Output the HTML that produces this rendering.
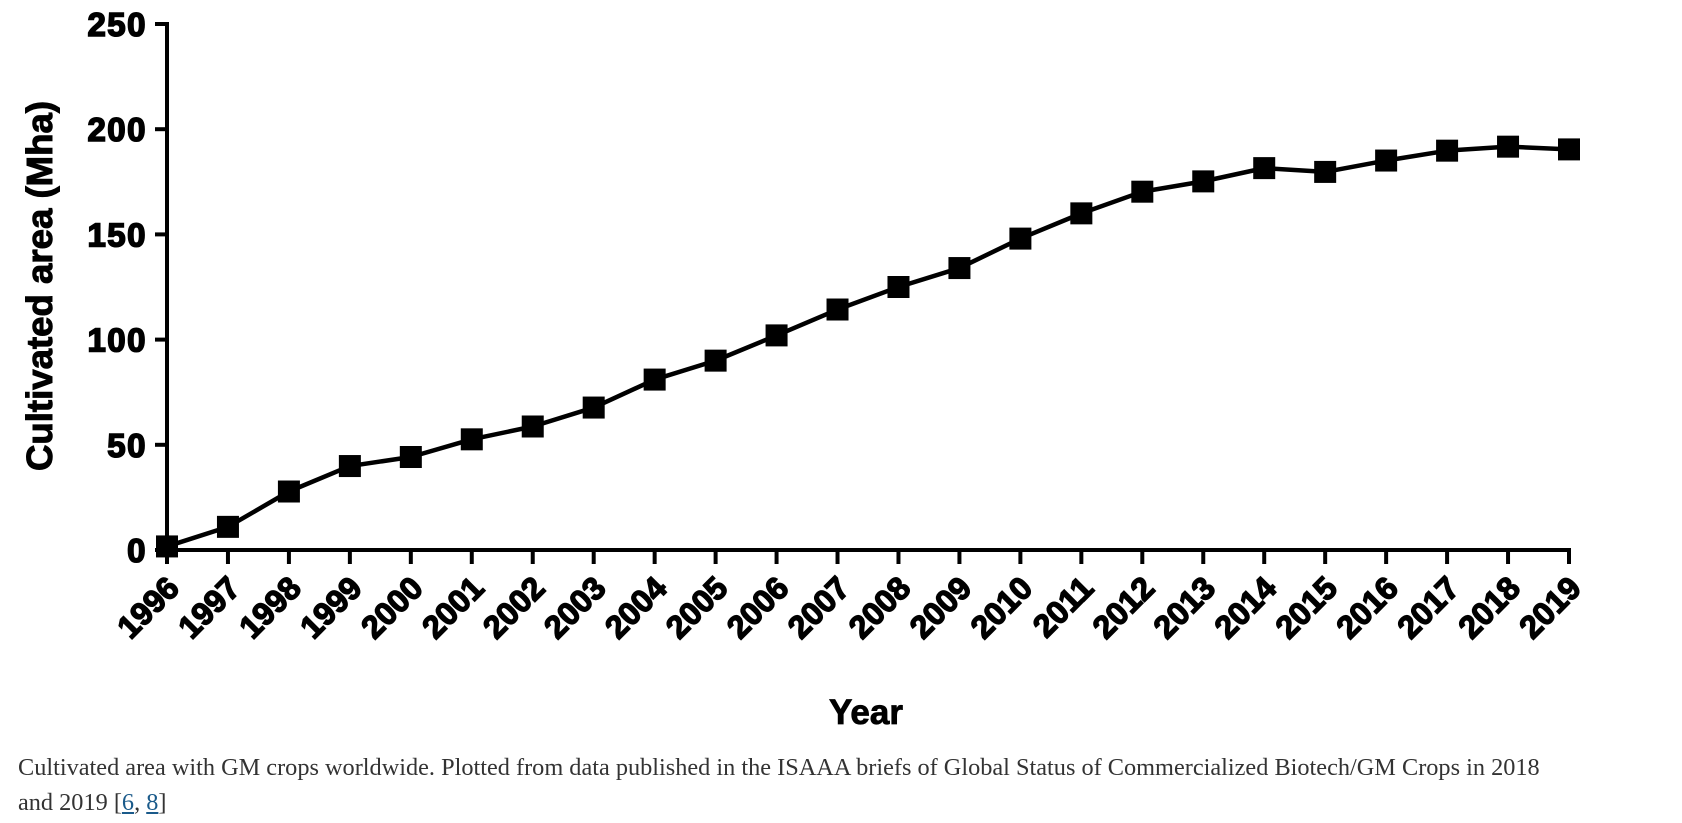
<!DOCTYPE html>
<html><head><meta charset="utf-8"><style>
body{margin:0;background:#fff;width:1682px;height:823px;overflow:hidden}
svg{position:absolute;left:0;top:0}
.cap{position:absolute;left:18px;top:750px;font-family:"Liberation Serif",serif;font-size:24.3px;line-height:35px;color:#333;width:1660px}
.cap a{color:#1a5a8a;text-decoration:underline}
</style></head><body>
<svg id="chart" width="1682" height="750" xmlns="http://www.w3.org/2000/svg"></svg>
<div class="cap">Cultivated area with GM crops worldwide. Plotted from data published in the ISAAA briefs of Global Status of Commercialized Biotech/GM Crops in 2018<br>and 2019 [<a>6</a>, <a>8</a>]</div>
<script>
const years=[1996,1997,1998,1999,2000,2001,2002,2003,2004,2005,2006,2007,2008,2009,2010,2011,2012,2013,2014,2015,2016,2017,2018,2019];
const areas=[1.7,11,27.8,39.9,44.2,52.6,58.7,67.7,81,90,102,114.3,125,134,148,160,170.3,175.2,181.5,179.7,185.1,189.8,191.7,190.4];
const yTicks=[0,50,100,150,200,250];
const svg=document.getElementById('chart');
const NS='http://www.w3.org/2000/svg';
const X0=167,X1=1569,Y0=550,Y1=24;
const sx=y=>X0+(y-years[0])/(years[years.length-1]-years[0])*(X1-X0);
const sy=v=>Y0-v/250*(Y0-Y1);
function mk(t,a){const e=document.createElementNS(NS,t);for(const k in a)e.setAttribute(k,a[k]);svg.appendChild(e);return e;}
let e;
e=mk('line',{x1:X0,y1:Y1-2,x2:X0,y2:Y0+2,stroke:'#000','stroke-width':4});


e=mk('line',{x1:X0-2,y1:Y0,x2:X1+2,y2:Y0,stroke:'#000','stroke-width':4});


yTicks.forEach(v=>{
 mk('line',{x1:X0-12,y1:sy(v),x2:X0,y2:sy(v),stroke:'#000','stroke-width':4});
 e=mk('text',{x:X0-20,y:sy(v)+12,'text-anchor':'end','font-family':'Liberation Sans, sans-serif','font-size':33,'font-weight':'bold',stroke:'#000','stroke-width':1.6,'letter-spacing':1.5});
 e.textContent=v;
 
 
});
years.forEach(y=>{
 mk('line',{x1:sx(y),y1:Y0,x2:sx(y),y2:Y0+14,stroke:'#000','stroke-width':4});
 e=mk('text',{x:0,y:0,'text-anchor':'end','font-family':'Liberation Sans, sans-serif','font-size':32,'font-weight':'bold',stroke:'#000','stroke-width':1.4,transform:`translate(${sx(y)+14},${Y0+40}) rotate(-45)`});
 e.textContent=y;
 
 
});
e=mk('polyline',{points:years.map((y,i)=>sx(y)+','+sy(areas[i])).join(' '),fill:'none',stroke:'#000','stroke-width':4.5,'stroke-linejoin':'round'});


years.forEach((y,i)=>{
 e=mk('rect',{x:sx(y)-11,y:sy(areas[i])-11,width:22,height:22,fill:'#000'});
 
 
});
e=mk('text',{x:0,y:0,'text-anchor':'middle','font-family':'Liberation Sans, sans-serif','font-size':36,'font-weight':'bold',stroke:'#000','stroke-width':1,textLength:370,lengthAdjust:'spacingAndGlyphs',transform:'translate(52,286) rotate(-90)'});
e.textContent='Cultivated area (Mha)';


e=mk('text',{x:866,y:724,'text-anchor':'middle','font-family':'Liberation Sans, sans-serif','font-size':35,'font-weight':'bold',stroke:'#000','stroke-width':0.8});
e.textContent='Year';


</script>
</body></html>
